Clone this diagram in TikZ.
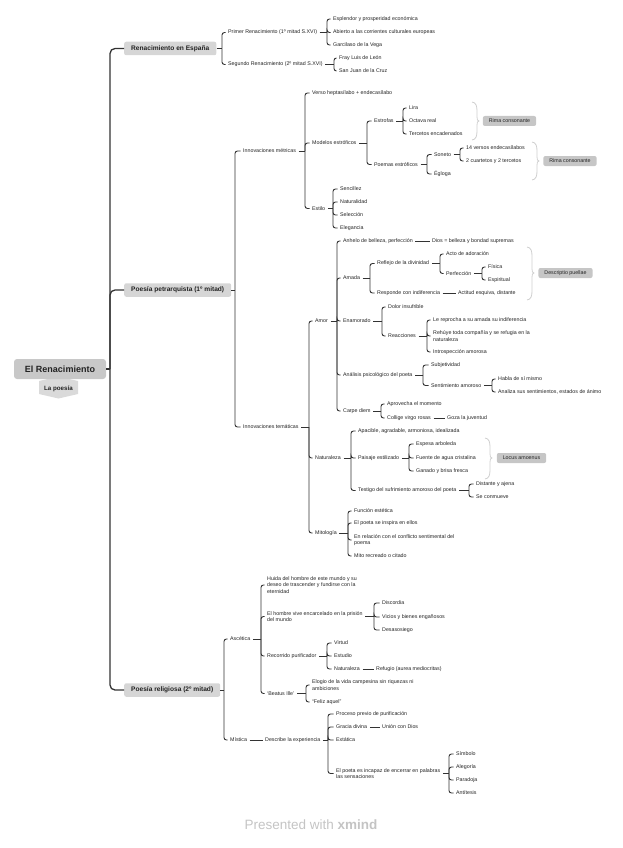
\documentclass[tikz,border=0pt]{standalone}
\usepackage{fontspec}
\setmainfont{Liberation Sans}
\usetikzlibrary{calc}
\definecolor{lnc}{HTML}{333333}
\definecolor{txc}{HTML}{222222}
\definecolor{boxc}{HTML}{D6D6D6}
\definecolor{rootc}{HTML}{C8C8C8}
\definecolor{sumc}{HTML}{C6C6C6}
\definecolor{brc}{HTML}{CFCFCF}
\definecolor{wmc}{HTML}{C4C4C4}
\definecolor{tagc}{HTML}{DADADA}
\newcommand\mmkids[3]{%
  \coordinate (#1-j) at (#1.east -| #2,0);
  \draw[conn] (#1.east) -- (#1-j);
  \foreach \mmc in {#3}{\draw[conn,rounded corners=2.5pt] (#1-j) |- (\mmc.west);}
}
\newcommand\mmsum[4]{%
  \draw[sumln] (#1,#2) .. controls ({#1+4},{#2+0.5}) and ({#1+5},{#2+4}) .. ({#1+5},{#2+9})
    -- ({#1+5},{#4-4}) .. controls ({#1+5},{#4-1.5}) and ({#1+5.5},{#4}) .. ({#1+7},{#4})
    .. controls ({#1+5.5},{#4}) and ({#1+5},{#4+1.5}) .. ({#1+5},{#4+4})
    -- ({#1+5},{#3-9}) .. controls ({#1+5},{#3-4}) and ({#1+4},{#3-0.5}) .. (#1,#3);
}
\tikzset{
  tx/.style={anchor=west, xshift=-2.5pt, inner xsep=2.5pt, inner ysep=1pt, text=txc,
    font=\fontsize{5.3}{6.4}\selectfont, align=left},
  mbox/.style={anchor=west, fill=boxc, rounded corners=2pt, inner xsep=7pt, inner ysep=1pt,
    minimum height=13.5pt, text=txc, font=\fontsize{6.6}{8}\selectfont\bfseries},
  sbox/.style={fill=sumc, rounded corners=2pt, inner xsep=6pt, inner ysep=1pt,
    minimum height=10pt, text=txc, font=\fontsize{5.3}{6.4}\selectfont},
  conn/.style={draw=lnc, line width=0.9pt},
  trunk/.style={draw=lnc, line width=1.3pt, rounded corners=5pt},
  sumln/.style={draw=brc, line width=0.8pt},
}
\begin{document}
\begin{tikzpicture}[x=1pt,y=-1pt]
\useasboundingbox (0,0) rectangle (622,848);
% root
\fill[tagc] (39,381) -- (58.5,376.5) -- (78,381) -- (78,394) -- (58.5,398.5) -- (39,394) -- cycle;
\node[fill=rootc, rounded corners=3pt, minimum width=92pt, minimum height=20pt,
  font=\fontsize{9}{10}\selectfont\bfseries, text=txc] (root) at (60,369) {El Renacimiento};
\node[font=\fontsize{6.2}{7}\selectfont\bfseries, text=txc] (lap) at (58.5,388.5) {La poesía};
% main branches
\node[mbox] (m1) at (124,48.5) {Renacimiento en España};
\node[mbox] (m2) at (124,290) {Poesía petrarquista (1º mitad)};
\node[mbox] (m3) at (124,690) {Poesía religiosa (2º mitad)};
\coordinate (rj) at (110,369);
\draw[trunk] (root.east) -- (rj);
\draw[trunk] (rj) |- (m1.west);
\draw[trunk] (rj) |- (m2.west);
\draw[trunk] (rj) |- (m3.west);
% ---- Renacimiento en España
\node[tx] (r1) at (228,32.5) {Primer Renacimiento (1º mitad S.XVI)};
\node[tx] (r2) at (228,64.5) {Segundo Renacimiento (2º mitad S.XVI)};
\node[tx] (r1a) at (333,19) {Esplendor y prosperidad económica};
\node[tx] (r1b) at (333,32.5) {Abierto a las corrientes culturales europeas};
\node[tx] (r1c) at (333,45) {Garcilaso de la Vega};
\node[tx] (r2a) at (339,58) {Fray Luis de León};
\node[tx] (r2b) at (339,71) {San Juan de la Cruz};
\mmkids{m1}{222}{r1,r2}
\mmkids{r1}{327}{r1a,r1b,r1c}
\mmkids{r2}{334}{r2a,r2b}
% ---- Poesía petrarquista
\node[tx] (im) at (243,151) {Innovaciones métricas};
\node[tx] (it) at (243,427) {Innovaciones temáticas};
\mmkids{m2}{235}{im,it}
\node[tx] (im1) at (312,93) {Verso heptasílabo + endecasílabo};
\node[tx] (im2) at (312,143) {Modelos estróficos};
\node[tx] (im3) at (312,208.5) {Estilo};
\mmkids{im}{305}{im1,im2,im3}
\node[tx] (es) at (374,121) {Estrofas};
\node[tx] (pe) at (374,164.5) {Poemas estróficos};
\mmkids{im2}{367}{es,pe}
\node[tx] (es1) at (409,108) {Lira};
\node[tx] (es2) at (409,121) {Octava real};
\node[tx] (es3) at (409,134) {Tercetos encadenados};
\mmkids{es}{403}{es1,es2,es3}
\node[tx] (so) at (434,154.5) {Soneto};
\node[tx] (eg) at (434,174) {Égloga};
\mmkids{pe}{427}{so,eg}
\node[tx] (so1) at (466,148) {14 versos endecasílabos};
\node[tx] (so2) at (466,161) {2 cuartetos y 2 tercetos};
\mmkids{so}{460}{so1,so2}
\node[tx] (st1) at (340,189) {Sencillez};
\node[tx] (st2) at (340,202) {Naturalidad};
\node[tx] (st3) at (340,215) {Selección};
\node[tx] (st4) at (340,228) {Elegancia};
\mmkids{im3}{333}{st1,st2,st3,st4}
\mmsum{472}{102}{140}{121}
\node[sbox] (rc1) at (509.5,121) {Rima consonante};
\mmsum{532}{142}{180}{161}
\node[sbox] (rc2) at (570,161) {Rima consonante};
% temáticas
\node[tx] (amor) at (315,321) {Amor};
\node[tx] (nat) at (315,458) {Naturaleza};
\node[tx] (mit) at (315,533) {Mitología};
\mmkids{it}{309}{amor,nat,mit}
\node[tx] (a1) at (343,241) {Anhelo de belleza, perfección};
\node[tx] (a2) at (343,278) {Amada};
\node[tx] (a3) at (343,321) {Enamorado};
\node[tx] (a4) at (343,375) {Análisis psicológico del poeta};
\node[tx] (a5) at (343,411) {Carpe diem};
\mmkids{amor}{337}{a1,a2,a3,a4,a5}
\node[tx] (a1c) at (432,241) {Dios = belleza y bondad supremas};
\draw[conn] (a1.east) -- (a1c.west);
\node[tx] (rd) at (377,263.5) {Reflejo de la divinidad};
\node[tx] (ri) at (377,293) {Responde con indiferencia};
\mmkids{a2}{370}{rd,ri}
\node[tx] (rd1) at (446,254) {Acto de adoración};
\node[tx] (pf) at (446,273.5) {Perfección};
\mmkids{rd}{440}{rd1,pf}
\node[tx] (pf1) at (488,267) {Física};
\node[tx] (pf2) at (488,280) {Espiritual};
\mmkids{pf}{482}{pf1,pf2}
\node[tx] (ric) at (458,293) {Actitud esquiva, distante};
\draw[conn] (ri.east) -- (ric.west);
\mmsum{527}{247}{300}{273}
\node[sbox] (dp) at (565.5,273) {Descriptio puellae};
\node[tx] (en1) at (388,307) {Dolor insufrible};
\node[tx] (re) at (388,336) {Reacciones};
\mmkids{a3}{382}{en1,re}
\node[tx] (re1) at (433,320) {Le reprocha a su amada su indiferencia};
\node[tx] (re2) at (433,336) {Rehúye toda compañía y se refugia en la\\naturaleza};
\node[tx] (re3) at (433,352) {Introspección amorosa};
\mmkids{re}{427}{re1,re2,re3}
\node[tx] (ap1) at (431,365) {Subjetividad};
\node[tx] (sa) at (431,385.5) {Sentimiento amoroso};
\mmkids{a4}{423}{ap1,sa}
\node[tx] (sa1) at (498,379) {Habla de sí mismo};
\node[tx] (sa2) at (498,392) {Analiza sus sentimientos, estados de ánimo};
\mmkids{sa}{492}{sa1,sa2}
\node[tx] (cd1) at (387,404) {Aprovecha el momento};
\node[tx] (cd2) at (387,418) {Collige virgo rosas};
\mmkids{a5}{381}{cd1,cd2}
\node[tx] (cd2c) at (447,418) {Goza la juventud};
\draw[conn] (cd2.east) -- (cd2c.west);
\node[tx] (n1) at (358,431) {Apacible, agradable, armoniosa, idealizada};
\node[tx] (pa) at (358,458) {Paisaje estilizado};
\node[tx] (te) at (358,490.5) {Testigo del sufrimiento amoroso del poeta};
\mmkids{nat}{351}{n1,pa,te}
\node[tx] (pa1) at (416,444) {Espesa arboleda};
\node[tx] (pa2) at (416,458) {Fuente de agua cristalina};
\node[tx] (pa3) at (416,471) {Ganado y brisa fresca};
\mmkids{pa}{409}{pa1,pa2,pa3}
\mmsum{485}{438}{479}{458}
\node[sbox] (la) at (521.5,458) {Locus amoenus};
\node[tx] (te1) at (476,484) {Distante y ajena};
\node[tx] (te2) at (476,497) {Se conmueve};
\mmkids{te}{469}{te1,te2}
\node[tx] (mi1) at (354,511) {Función estética};
\node[tx] (mi2) at (354,523) {El poeta se inspira en ellos};
\node[tx] (mi3) at (354,540) {En relación con el conflicto sentimental del\\poema};
\node[tx] (mi4) at (354,556) {Mito recreado o citado};
\mmkids{mit}{348}{mi1,mi2,mi3,mi4}
% ---- Poesía religiosa
\node[tx] (as) at (230,639) {Ascética};
\node[tx] (mis) at (230,740) {Mística};
\mmkids{m3}{224}{as,mis}
\node[tx] (as1) at (267,585) {Huida del hombre de este mundo y su\\deseo de trascender y fundirse con la\\eternidad};
\node[tx] (as2) at (267,616.5) {El hombre vive encarcelado en la prisión\\del mundo};
\node[tx] (as3) at (267,656) {Recorrido purificador};
\node[tx] (as4) at (267,693.5) {‘Beatus Ille’};
\mmkids{as}{261}{as1,as2,as3,as4}
\node[tx] (d1) at (382,603) {Discordia};
\node[tx] (d2) at (382,617) {Vicios y bienes engañosos};
\node[tx] (d3) at (382,630) {Desasosiego};
\mmkids{as2}{374}{d1,d2,d3}
\node[tx] (v1) at (334,643) {Virtud};
\node[tx] (v2) at (334,656) {Estudio};
\node[tx] (v3) at (334,669) {Naturaleza};
\mmkids{as3}{327}{v1,v2,v3}
\node[tx] (v3c) at (376,669) {Refugio (aurea mediocritas)};
\draw[conn] (v3.east) -- (v3c.west);
\node[tx] (b1) at (312,685) {Elogio de la vida campesina sin riquezas ni\\ambiciones};
\node[tx] (b2) at (312,702) {“Feliz aquel”};
\mmkids{as4}{306}{b1,b2}
\node[tx] (de) at (265,740) {Describe la experiencia};
\draw[conn] (mis.east) -- (de.west);
\node[tx] (e1) at (336,714) {Proceso previo de purificación};
\node[tx] (e2) at (336,727) {Gracia divina};
\node[tx] (e3) at (336,740) {Extática};
\node[tx] (e4) at (336,773.5) {El poeta es incapaz de encerrar en palabras\\las sensaciones};
\mmkids{de}{328}{e1,e2,e3,e4}
\node[tx] (e2c) at (382,727) {Unión con Dios};
\draw[conn] (e2.east) -- (e2c.west);
\node[tx] (s1) at (456,754) {Símbolo};
\node[tx] (s2) at (456,767) {Alegoría};
\node[tx] (s3) at (456,780) {Paradoja};
\node[tx] (s4) at (456,793) {Antítesis};
\mmkids{e4}{449}{s1,s2,s3,s4}
% watermark
\node[font=\fontsize{13.5}{15}\selectfont, text=wmc] (wm) at (311,825) {Presented with \textbf{xmind}};
\end{tikzpicture}
\end{document}
